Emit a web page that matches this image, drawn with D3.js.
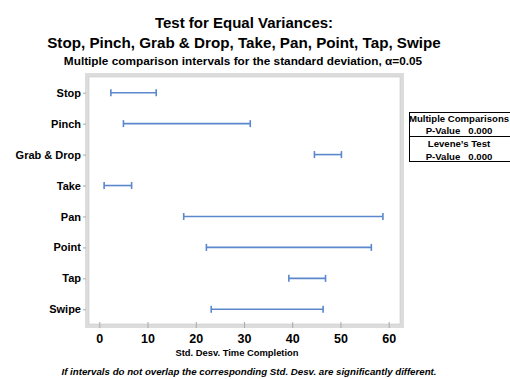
<!DOCTYPE html>
<html>
<head>
<meta charset="utf-8">
<script src="https://cdn.jsdelivr.net/npm/d3@7"></script>
<style>
  body { margin: 0; background: #fff; }
  svg text { font-family: "Liberation Sans", Arial, sans-serif; font-weight: bold; fill: #000; }
</style>
</head>
<body>
<div id="chart"></div>
<script>
// data
const categories = ["Stop", "Pinch", "Grab & Drop", "Take", "Pan", "Point", "Tap", "Swipe"]
const lower = [2.4, 5.0, 44.6, 1.0, 17.5, 22.2, 39.3, 23.2]
const upper = [11.8, 31.3, 50.2, 6.7, 58.8, 56.4, 46.9, 46.4]
const xTicks = [0, 10, 20, 30, 40, 50, 60]
const legendLines = ["Multiple Comparisons", "P-Value   0.000", "Levene\u2019s Test", "P-Value   0.000"]

const width = 510, height = 379
const frame = { left: 87, top: 75, right: 402, bottom: 326 }

const svg = d3.select("#chart").append("svg")
    .attr("width", width)
    .attr("height", height)

// titles
svg.append("text").attr("x", 244).attr("y", 28)
    .attr("text-anchor", "middle").style("font-size", "15px")
    .text("Test for Equal Variances:")
svg.append("text").attr("x", 244).attr("y", 48)
    .attr("text-anchor", "middle").style("font-size", "15.2px")
    .text("Stop, Pinch, Grab & Drop, Take, Pan, Point, Tap, Swipe")
svg.append("text").attr("x", 243).attr("y", 65)
    .attr("text-anchor", "middle").style("font-size", "11.8px")
    .text("Multiple comparison intervals for the standard deviation, \u03b1=0.05")

const x = d3.scaleLinear().domain([0, 60]).range([99.3, 388.7])
const y = d3.scalePoint().domain(categories).range([92.7, 309.3])

// plot frame (thick light grey border)
svg.append("rect")
    .attr("x", frame.left).attr("y", frame.top)
    .attr("width", frame.right - frame.left).attr("height", frame.bottom - frame.top)
    .attr("fill", "#fff").attr("stroke", "#dcdcdc").attr("stroke-width", 4)
svg.append("rect")
    .attr("x", frame.left + 2).attr("y", frame.top + 2)
    .attr("width", frame.right - frame.left - 4).attr("height", frame.bottom - frame.top - 4)
    .attr("fill", "none").attr("stroke", "#c8c8c8").attr("stroke-width", 0.6)

// x axis
const xAxis = svg.append("g")
    .attr("transform", `translate(0, ${frame.bottom - 2})`)
    .call(d3.axisBottom(x).tickValues(xTicks).tickSize(4).tickPadding(6))
xAxis.select(".domain").remove()
xAxis.selectAll(".tick line").attr("stroke", "#aaa").attr("y1", -2)
xAxis.selectAll("text").style("font-size", "12.5px").attr("fill", "#000")

svg.append("text").attr("x", 237).attr("y", 356)
    .attr("text-anchor", "middle").style("font-size", "9.4px")
    .text("Std. Desv. Time Completion")

// y axis
const yAxis = svg.append("g")
    .attr("transform", `translate(${frame.left - 1}, 0)`)
    .call(d3.axisLeft(y).tickSize(3).tickPadding(2))
yAxis.select(".domain").remove()
yAxis.selectAll(".tick line").attr("stroke", "#aaa")
yAxis.selectAll("text").style("font-size", "11px").attr("fill", "#000")

// intervals
const rows = categories.map((c, i) => ({ cat: c, lo: lower[i], hi: upper[i] }))
const g = svg.append("g").attr("stroke", "#5b87cc").attr("stroke-width", 1.6)
g.selectAll(".bar").data(rows).enter().append("line")
    .attr("x1", d => x(d.lo)).attr("x2", d => x(d.hi))
    .attr("y1", d => y(d.cat)).attr("y2", d => y(d.cat))
g.selectAll(".capl").data(rows).enter().append("line")
    .attr("x1", d => x(d.lo)).attr("x2", d => x(d.lo))
    .attr("y1", d => y(d.cat) - 3.5).attr("y2", d => y(d.cat) + 3.5)
g.selectAll(".caph").data(rows).enter().append("line")
    .attr("x1", d => x(d.hi)).attr("x2", d => x(d.hi))
    .attr("y1", d => y(d.cat) - 3.5).attr("y2", d => y(d.cat) + 3.5)

// legend box
svg.append("rect").attr("x", 409.5).attr("y", 112.5)
    .attr("width", 110).attr("height", 49)
    .attr("fill", "#fff").attr("stroke", "#000").attr("stroke-width", 1)
svg.append("line").attr("x1", 409.5).attr("x2", 520)
    .attr("y1", 136.5).attr("y2", 136.5)
    .attr("stroke", "#000").attr("stroke-width", 1)
svg.selectAll(".leg").data(legendLines).enter().append("text")
    .attr("x", 459)
    .attr("y", (d, i) => 122 + i * 12.2 + (i >= 2 ? 1 : 0))
    .attr("text-anchor", "middle").style("font-size", "9.6px")
    .style("white-space", "pre")
    .text(d => d)

// footnote
svg.append("text").attr("x", 249).attr("y", 375)
    .attr("text-anchor", "middle").style("font-size", "9.7px").style("font-style", "italic")
    .text("If intervals do not overlap the corresponding Std. Desv. are significantly different.")
</script>
</body>
</html>
